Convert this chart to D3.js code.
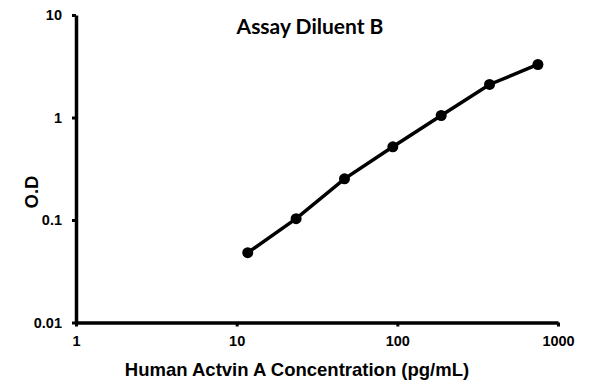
<!DOCTYPE html>
<html>
<head>
<meta charset="utf-8">
<script src="https://cdn.jsdelivr.net/npm/d3@7"></script>
<style>
  body { margin: 0; background: #fff; }
  text { font-family: "Liberation Sans", Arial, sans-serif; font-weight: bold; }
</style>
</head>
<body>
<script>
// standard curve
var concentration = [11.72, 23.44, 46.88, 93.75, 187.5, 375, 750];
var od = [0.048, 0.103, 0.252, 0.518, 1.046, 2.10, 3.29];
var xTicks = [1, 10, 100, 1000];
var yTicks = [0.01, 0.1, 1, 10];

var width = 595, height = 384;

var svg = d3.select("body").append("svg")
    .attr("width", width)
    .attr("height", height);

var x = d3.scaleLog().domain([1, 1000]).range([76, 558]);
var y = d3.scaleLog().domain([0.01, 10]).range([322.5, 15]);

// axes
var xAxis = svg.append("g")
    .attr("transform", "translate(0," + y(0.01) + ")")
    .call(d3.axisBottom(x).tickValues(xTicks).tickFormat(d3.format("d")).tickSize(4).tickSizeOuter(0));
var yAxis = svg.append("g")
    .attr("transform", "translate(" + x(1) + ",0)")
    .call(d3.axisLeft(y).tickValues(yTicks).tickFormat(function(d) { return String(d); }).tickSize(4).tickSizeOuter(0));

[xAxis, yAxis].forEach(function(a) {
    a.select(".domain").attr("stroke", "#000").attr("stroke-width", 3.5);
    a.selectAll(".tick line").attr("stroke", "#000").attr("stroke-width", 3);
    a.selectAll(".tick text").attr("fill", "#000")
        .style("font-size", "14.5px");
});
xAxis.selectAll(".tick text").attr("dy", "1.15em");
yAxis.selectAll(".tick text").attr("x", -14);

// curve
var line = d3.line()
    .x(function(d, i) { return x(concentration[i]); })
    .y(function(d) { return y(d); });

svg.append("path")
    .datum(od)
    .attr("fill", "none")
    .attr("stroke", "#000")
    .attr("stroke-width", 3.5)
    .attr("d", line);

svg.selectAll("circle")
    .data(od)
    .enter()
    .append("circle")
    .attr("cx", function(d, i) { return x(concentration[i]); })
    .attr("cy", function(d) { return y(d); })
    .attr("r", 5.5)
    .attr("fill", "#000");

// labels
svg.append("text")
    .attr("x", 310).attr("y", 34)
    .attr("text-anchor", "middle")
    .style("font-family", "Lato, 'Open Sans', sans-serif")
    .style("font-size", "21px")
    .text("Assay Diluent B");

svg.append("text")
    .attr("x", 297).attr("y", 376)
    .attr("text-anchor", "middle")
    .style("font-size", "18.5px")
    .text("Human Actvin A Concentration (pg/mL)");

svg.append("text")
    .attr("transform", "translate(38,192) rotate(-90)")
    .attr("text-anchor", "middle")
    .style("font-size", "18.5px")
    .text("O.D");
</script>
</body>
</html>
